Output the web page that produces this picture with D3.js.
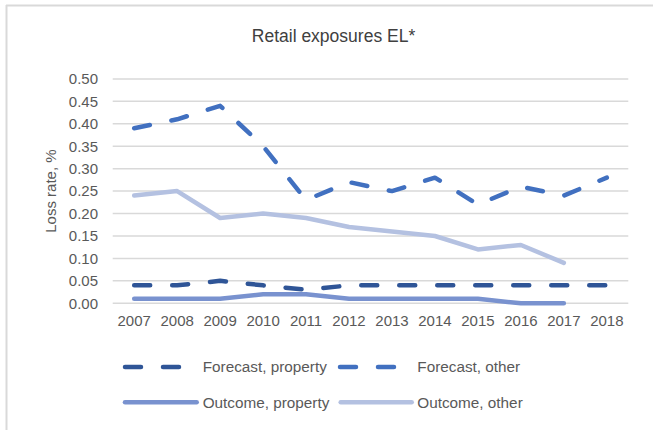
<!DOCTYPE html>
<html>
<head>
<meta charset="utf-8">
<script src="https://cdn.jsdelivr.net/npm/d3@7/dist/d3.min.js"></script>
<style>
  html, body { margin: 0; padding: 0; background: #fff; }
  svg { display: block; font-family: "Liberation Sans", Arial, Helvetica, sans-serif; }
</style>
</head>
<body>
<svg id="chart" width="653" height="430"></svg>
<script>
// Years on the x axis
const years = ["2007","2008","2009","2010","2011","2012","2013","2014","2015","2016","2017","2018"];

// Loss rates in percent, one array per series
const forecastProperty = [0.04, 0.04, 0.05, 0.04, 0.03, 0.04, 0.04, 0.04, 0.04, 0.04, 0.04, 0.04];
const forecastOther    = [0.39, 0.41, 0.44, 0.35, 0.23, 0.27, 0.25, 0.28, 0.22, 0.26, 0.24, 0.28];
const outcomeProperty  = [0.01, 0.01, 0.01, 0.02, 0.02, 0.01, 0.01, 0.01, 0.01, 0.00, 0.00];
const outcomeOther     = [0.24, 0.25, 0.19, 0.20, 0.19, 0.17, 0.16, 0.15, 0.12, 0.13, 0.09];

const yTicks = [0, 0.05, 0.10, 0.15, 0.20, 0.25, 0.30, 0.35, 0.40, 0.45, 0.50];

const seriesNames = ["Forecast, property", "Forecast, other", "Outcome, property", "Outcome, other"];

const series = [
  { name: seriesNames[0], values: forecastProperty, color: "#2f5597", dashed: true },
  { name: seriesNames[1], values: forecastOther,    color: "#4170c0", dashed: true },
  { name: seriesNames[2], values: outcomeProperty,  color: "#7992cf", dashed: false },
  { name: seriesNames[3], values: outcomeOther,     color: "#b4c1e1", dashed: false }
];

const svg = d3.select("#chart");
const textColor = "#595959";
const gridColor = "#d9d9d9";

// Chart frame (left and top edges)
svg.append("line").attr("x1", 6.5).attr("x2", 6.5).attr("y1", 5).attr("y2", 430)
  .attr("stroke", gridColor).attr("stroke-width", 2);
svg.append("line").attr("x1", 6).attr("x2", 653).attr("y1", 5.5).attr("y2", 5.5)
  .attr("stroke", gridColor).attr("stroke-width", 2);

const plot = { left: 112.7, right: 628.3, top: 78.9, bottom: 303.3 };

const x = d3.scaleBand().domain(years).range([plot.left, plot.right]).paddingInner(0).paddingOuter(0);
const y = d3.scaleLinear().domain([0, 0.5]).range([plot.bottom, plot.top]);
const cx = yr => x(yr) + x.bandwidth() / 2;

// Title
svg.append("text")
  .attr("x", 333.5).attr("y", 42)
  .attr("text-anchor", "middle")
  .attr("font-size", 17.5)
  .attr("fill", "#404040")
  .text("Retail exposures EL*");

// Horizontal gridlines
svg.append("g").selectAll("line").data(yTicks).join("line")
  .attr("x1", plot.left).attr("x2", plot.right)
  .attr("y1", d => y(d)).attr("y2", d => y(d))
  .attr("stroke", gridColor).attr("stroke-width", 1.5);

// Y axis labels
const yAxis = d3.axisLeft(y).tickValues(yTicks).tickFormat(d3.format(".2f")).tickSize(0).tickPadding(14.7);
const yg = svg.append("g").attr("transform", `translate(${plot.left},0)`).call(yAxis);
yg.select(".domain").remove();
yg.selectAll("text").attr("font-size", 15).attr("fill", textColor)
  .attr("font-family", "'Liberation Sans', Arial, sans-serif");

// X axis labels
const xAxis = d3.axisBottom(x).tickSize(0).tickPadding(12);
const xg = svg.append("g").attr("transform", `translate(0,${plot.bottom})`).call(xAxis);
xg.select(".domain").remove();
xg.selectAll("text").attr("font-size", 15).attr("fill", textColor)
  .attr("font-family", "'Liberation Sans', Arial, sans-serif");

// Y axis title
svg.append("text")
  .attr("transform", `translate(56,${(plot.top + plot.bottom) / 2}) rotate(-90)`)
  .attr("text-anchor", "middle")
  .attr("font-size", 15)
  .attr("fill", textColor)
  .text("Loss rate, %");

// Series lines
const line = d3.line().x((d, i) => cx(years[i])).y(d => y(d));
const dash = "16,22";

svg.append("g").selectAll("path").data(series.slice().reverse()).join("path")
  .attr("d", s => line(s.values))
  .attr("fill", "none")
  .attr("stroke", s => s.color)
  .attr("stroke-width", 4.5)
  .attr("stroke-linecap", "round")
  .attr("stroke-linejoin", "round")
  .attr("stroke-dasharray", s => s.dashed ? dash : null);

// Legend
const legendItems = [
  { s: series[0], lx1: 125, lx2: 183, tx: 202.7, ty: 367 },
  { s: series[1], lx1: 340, lx2: 398, tx: 417.3, ty: 367 },
  { s: series[2], lx1: 125, lx2: 196.7, tx: 202.7, ty: 402.3 },
  { s: series[3], lx1: 340.7, lx2: 411.7, tx: 417.3, ty: 402.3 }
];
const lg = svg.append("g").selectAll("g").data(legendItems).join("g");
lg.append("line")
  .attr("x1", d => d.lx1).attr("x2", d => d.lx2)
  .attr("y1", d => d.ty).attr("y2", d => d.ty)
  .attr("stroke", d => d.s.color)
  .attr("stroke-width", 4.5)
  .attr("stroke-linecap", "round")
  .attr("stroke-dasharray", d => d.s.dashed ? "16,22" : null);
lg.append("text")
  .attr("x", d => d.tx).attr("y", d => d.ty)
  .attr("dy", "0.35em")
  .attr("font-size", 15.3)
  .attr("fill", textColor)
  .text(d => d.s.name);
</script>
</body>
</html>
